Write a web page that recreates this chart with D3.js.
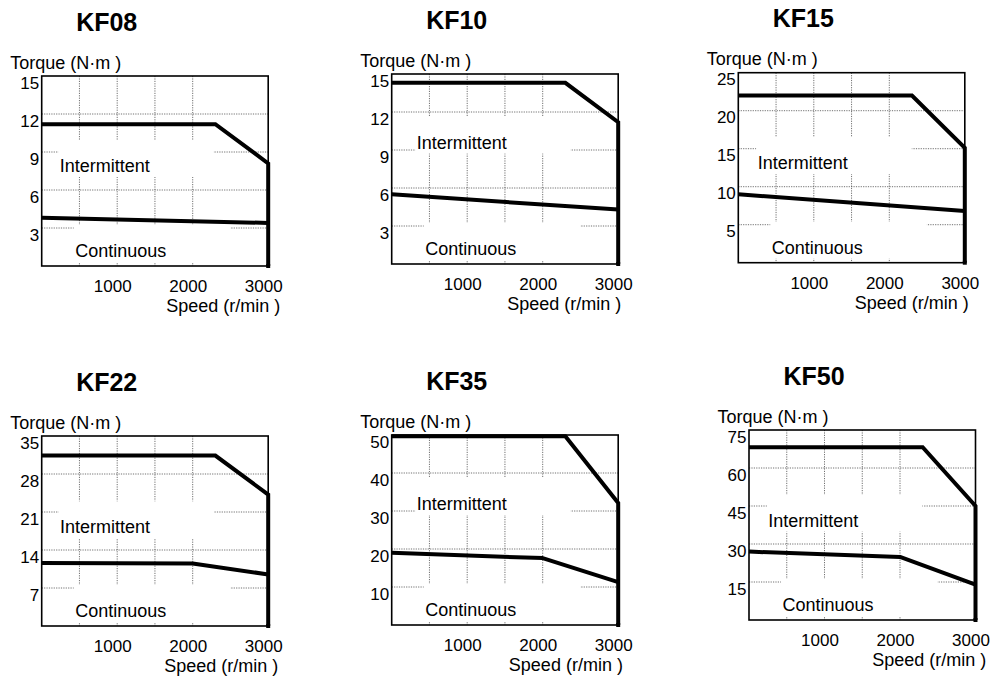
<!DOCTYPE html>
<html>
<head>
<meta charset="utf-8">
<script src="https://cdn.jsdelivr.net/npm/d3@7/dist/d3.min.js"></script>
<style>
  html, body { margin: 0; padding: 0; background: #fff; }
  svg { display: block; }
  text { font-family: Arial, "Liberation Sans", sans-serif; fill: #000; }
</style>
</head>
<body>
<svg id="chart" width="991" height="679"></svg>
<script>
// ---------------- data ----------------
const models = ["KF08", "KF10", "KF15", "KF22", "KF35", "KF50"];
const torqueMax = [15, 15, 25, 35, 50, 75];
const torqueTicks = [
  [3, 6, 9, 12, 15],
  [3, 6, 9, 12, 15],
  [5, 10, 15, 20, 25],
  [7, 14, 21, 28, 35],
  [10, 20, 30, 40, 50],
  [15, 30, 45, 60, 75]
];
const speedMax = 3000;
const speedTicks = [1000, 2000, 3000];
const speedGrid = [500, 1000, 1500, 2000];

// Intermittent zone boundary (speed r/min, torque N·m)
const intermittentSpeed = [0, 2300, 3000, 3000];
const intermittentTorque = [
  [11.2, 11.2, 8.1, 0],
  [14.3, 14.3, 11.2, 0],
  [22.0, 22.0, 15.1, 0],
  [31.4, 31.4, 24.2, 0],
  [49.7, 49.7, 32.1, 0],
  [68.2, 68.2, 45.0, 0]
];
// Continuous zone boundary
const continuousSpeed = [
  [0, 3000],
  [0, 3000],
  [0, 3000],
  [0, 2000, 3000],
  [0, 2000, 3000],
  [0, 2000, 3000]
];
const continuousTorque = [
  [3.8, 3.4],
  [5.5, 4.3],
  [9.0, 6.8],
  [11.6, 11.5, 9.5],
  [19.0, 17.6, 11.3],
  [27.0, 24.9, 14.0]
];
const zoneLabels = ["Intermittent", "Continuous"];
const yTitle = "Torque (N·m )";
const xTitle = "Speed (r/min )";

// ---------------- layout ----------------
const plotW = 226.5, plotH = 190;
const layout = [
  { left: 41.7,  top: 76,    interDx: 18,   interDy: 96,   speedDx: 12 },
  { left: 391.7, top: 74,    interDx: 25,   interDy: 74.5, speedDx: 3 },
  { left: 738.3, top: 72.7,  interDx: 19.4, interDy: 96.3, speedDx: 4 },
  { left: 41.7,  top: 436,   interDx: 18.3, interDy: 97.3, speedDx: 10 },
  { left: 391.7, top: 435,   interDx: 25,   interDy: 75,   speedDx: 4.7 },
  { left: 749,   top: 430,   interDx: 19.3, interDy: 96.7, speedDx: 10.7 }
];

const svg = d3.select("#chart");

models.forEach((name, i) => {
  const L = layout[i];
  const left = L.left, top = L.top, right = left + plotW, bottom = top + plotH;
  const x = d3.scaleLinear().domain([0, speedMax]).range([left, right]);
  const y = d3.scaleLinear().domain([0, torqueMax[i]]).range([bottom, top]);

  const g = svg.append("g").attr("class", "panel");
  const gridG = g.append("g");
  const bandG = g.append("g");
  const textG = g.append("g");

  // grid
  gridG.selectAll("line.h")
    .data(torqueTicks[i].filter(t => t < torqueMax[i]))
    .join("line")
    .attr("x1", left).attr("x2", right)
    .attr("y1", d => y(d)).attr("y2", d => y(d))
    .attr("stroke", "#333").attr("stroke-width", 0.7)
    .attr("stroke-dasharray", "1.2,1.2");
  gridG.selectAll("line.v")
    .data(speedGrid)
    .join("line")
    .attr("x1", d => x(d)).attr("x2", d => x(d))
    .attr("y1", top).attr("y2", bottom)
    .attr("stroke", "#333").attr("stroke-width", 0.7)
    .attr("stroke-dasharray", "1.2,1.2");

  // zone labels with white background bands
  const labelPos = [
    { x: left + L.interDx, y: top + L.interDy },
    { x: left + 33.5, y: bottom - 9 }
  ];
  zoneLabels.forEach((lab, k) => {
    const t = textG.append("text")
      .attr("x", labelPos[k].x).attr("y", labelPos[k].y)
      .attr("font-size", 18)
      .text(lab);
    const w = t.node().getComputedTextLength();
    const bx0 = labelPos[k].x - 1.5;
    const bx1 = Math.min(labelPos[k].x + w + 64, right - 1);
    const by0 = labelPos[k].y - 32;
    const by1 = Math.min(labelPos[k].y + 5, bottom - 3.5);
    bandG.append("rect")
      .attr("x", bx0).attr("y", by0)
      .attr("width", bx1 - bx0).attr("height", by1 - by0)
      .attr("fill", "#fff");
  });

  // frame
  g.append("rect")
    .attr("x", left).attr("y", top)
    .attr("width", plotW).attr("height", plotH)
    .attr("fill", "none").attr("stroke", "#000").attr("stroke-width", 1.6);

  // curves
  const line = d3.line().x(d => x(d[0])).y(d => y(d[1]));
  const inter = intermittentSpeed.map((s, k) => [s, intermittentTorque[i][k]]);
  const cont = continuousSpeed[i].map((s, k) => [s, continuousTorque[i][k]]);
  g.append("path").attr("d", line(inter))
    .attr("fill", "none").attr("stroke", "#000").attr("stroke-width", 4)
    .attr("stroke-linejoin", "miter");
  // small extension of the vertical boundary below the frame
  g.append("line")
    .attr("x1", x(speedMax)).attr("x2", x(speedMax))
    .attr("y1", y(0) - 2).attr("y2", y(0) + 2)
    .attr("stroke", "#000").attr("stroke-width", 4);
  g.append("path").attr("d", line(cont))
    .attr("fill", "none").attr("stroke", "#000").attr("stroke-width", 4)
    .attr("stroke-linejoin", "round");

  // axes (labels only)
  const yAxis = g.append("g")
    .attr("transform", `translate(${left},0)`)
    .call(d3.axisLeft(y).tickValues(torqueTicks[i]).tickSize(0).tickPadding(2.5));
  yAxis.select(".domain").remove();
  yAxis.selectAll("text")
    .attr("dy", null).attr("y", 12)
    .attr("font-size", 17).attr("font-family", "Arial, 'Liberation Sans', sans-serif")
    .attr("fill", "#000");

  const xAxis = g.append("g")
    .attr("transform", `translate(0,${bottom})`)
    .call(d3.axisBottom(x).tickValues(speedTicks).tickSize(0).tickFormat(d3.format("d")));
  xAxis.select(".domain").remove();
  xAxis.selectAll("text")
    .attr("dy", null).attr("y", 26).attr("dx", -5)
    .attr("font-size", 17).attr("font-family", "Arial, 'Liberation Sans', sans-serif")
    .attr("fill", "#000");

  // titles
  g.append("text")
    .attr("x", left + 65).attr("y", top - 45.5)
    .attr("text-anchor", "middle")
    .attr("font-size", 25).attr("font-weight", "bold")
    .text(name);
  g.append("text")
    .attr("x", left - 31.5).attr("y", top - 7.5)
    .attr("font-size", 18)
    .text(yTitle);
  g.append("text")
    .attr("x", right + L.speedDx).attr("y", bottom + 46)
    .attr("text-anchor", "end")
    .attr("font-size", 18)
    .text(xTitle);
});
</script>
</body>
</html>
